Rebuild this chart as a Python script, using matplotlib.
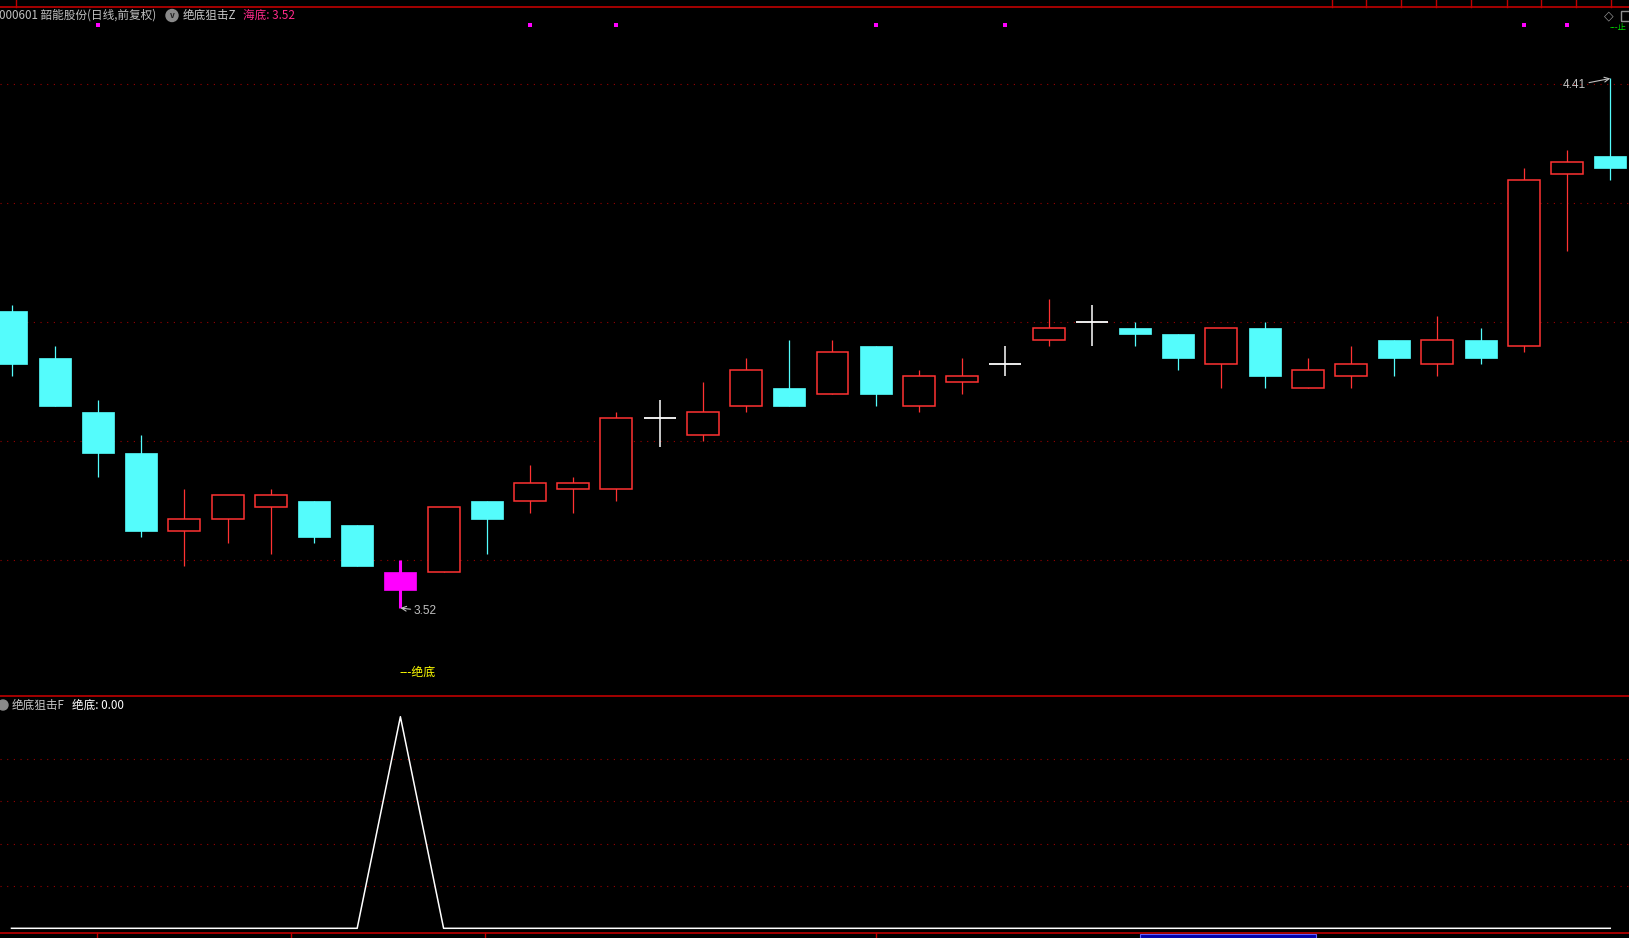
"""
韶能股份 日线K线 + 绝底狙击 指标 (复刻通达信界面)
"""

import matplotlib
matplotlib.use('Agg')
import matplotlib.pyplot as plt
from matplotlib.patches import Rectangle, Ellipse
from matplotlib.lines import Line2D
import matplotlib.transforms as mtransforms

plt.rcParams['font.family'] = ['Noto Sans CJK SC', 'DejaVu Sans']

W, H = 1629, 938
DPI = 100

# ============================================================
# 数据
# ============================================================

opens = [4.02, 3.94, 3.85, 3.78, 3.65, 3.67, 3.69, 3.70, 3.66, 3.58,
         3.58, 3.70, 3.70, 3.72, 3.72, 3.84, 3.81, 3.86, 3.89, 3.88,
         3.96, 3.86, 3.90, 3.93, 3.97, 4.00, 3.99, 3.98, 3.93, 3.99,
         3.89, 3.91, 3.97, 3.93, 3.97, 3.96, 4.25, 4.28]
highs = [4.03, 3.96, 3.87, 3.81, 3.72, 3.71, 3.72, 3.70, 3.66, 3.60,
         3.69, 3.70, 3.76, 3.74, 3.85, 3.87, 3.90, 3.94, 3.97, 3.97,
         3.96, 3.92, 3.94, 3.96, 4.04, 4.03, 4.00, 3.98, 3.99, 4.00,
         3.94, 3.96, 3.97, 4.01, 3.99, 4.26, 4.29, 4.41]
lows = [3.91, 3.86, 3.74, 3.64, 3.59, 3.63, 3.61, 3.63, 3.59, 3.52,
        3.58, 3.61, 3.68, 3.68, 3.70, 3.79, 3.80, 3.85, 3.86, 3.88,
        3.86, 3.85, 3.88, 3.91, 3.96, 3.96, 3.96, 3.92, 3.89, 3.89,
        3.89, 3.89, 3.91, 3.91, 3.93, 3.95, 4.12, 4.24]
closes = [3.93, 3.86, 3.78, 3.65, 3.67, 3.71, 3.71, 3.64, 3.59, 3.55,
          3.69, 3.67, 3.73, 3.73, 3.84, 3.84, 3.85, 3.92, 3.86, 3.95,
          3.88, 3.91, 3.91, 3.93, 3.99, 4.00, 3.98, 3.94, 3.99, 3.91,
          3.92, 3.93, 3.94, 3.97, 3.94, 4.24, 4.27, 4.26]

# 绝底狙击F 指标值
jd_values = [0, 0, 0, 0, 0, 0, 0, 0, 0, 1,
             0, 0, 0, 0, 0, 0, 0, 0, 0, 0,
             0, 0, 0, 0, 0, 0, 0, 0, 0, 0,
             0, 0, 0, 0, 0, 0, 0, 0]

# 顶部品红小点所在K线
dot_idx = [2, 12, 14, 20, 23, 35, 36]

price_grid = [3.60, 3.80, 4.00, 4.20, 4.40]
sub_grid = [0.2, 0.4, 0.6, 0.8]

low_label = '3.52'
high_label = '4.41'

C_UP = '#FF3232'
C_DOWN = '#54FCFC'
C_SIG = '#FF00FF'
C_GRID = '#9A0000'
C_LINE = '#C00000'
C_TXT = '#C0C0C0'

n = len(opens)
xs = list(range(n))


def fx(px):
    return px / W


def fy(py):
    return 1 - py / H


# ============================================================
# 画布
# ============================================================

fig = plt.figure(figsize=(W / DPI, H / DPI), dpi=DPI, facecolor='black')

# 主图: y 像素 8 ~ 695
ax = fig.add_axes([0, fy(695), 1, (695 - 8) / H])
ax.set_facecolor('black')
x_left = -11.5 / 43.21
x_right = (W - 11.5) / 43.21
ax.set_xlim(x_left, x_right)
ax.set_ylim(3.52 - 87 / 595, 3.52 + 600 / 595)
ax.axis('off')

for g in price_grid:
    ax.axhline(g, color=C_GRID, lw=0.8, linestyle=(0, (1, 5)), zorder=1)

bw = 0.74
for i in xs:
    o, h, l, c = opens[i], highs[i], lows[i], closes[i]
    if jd_values[i] > 0:
        ax.vlines(i, l, h, color=C_SIG, lw=2.2, zorder=2)
        ax.add_patch(Rectangle((i - bw / 2, min(o, c)), bw, abs(c - o),
                               facecolor=C_SIG, edgecolor=C_SIG, lw=0.5, zorder=3))
    elif c > o:
        ax.vlines(i, l, h, color=C_UP, lw=0.9, zorder=2)
        ax.add_patch(Rectangle((i - bw / 2, o), bw, c - o,
                               facecolor='black', edgecolor=C_UP, lw=1.1, zorder=3))
    elif c < o:
        ax.vlines(i, l, h, color=C_DOWN, lw=0.9, zorder=2)
        ax.add_patch(Rectangle((i - bw / 2, c), bw, o - c,
                               facecolor=C_DOWN, edgecolor=C_DOWN, lw=0.5, zorder=3))
    else:
        ax.vlines(i, l, h, color='white', lw=1.1, zorder=2)
        ax.hlines(o, i - bw / 2, i + bw / 2, color='white', lw=1.3, zorder=3)

# 顶部品红点
trans = mtransforms.blended_transform_factory(ax.transData, ax.transAxes)
ax.scatter(dot_idx, [(695 - 25) / (695 - 8)] * len(dot_idx), transform=trans,
           marker='s', s=5, color=C_SIG, lw=0, zorder=4, clip_on=False)

# 最低/最高标注
i_low = lows.index(min(lows))
i_high = highs.index(max(highs))
ax.annotate(low_label, xy=(i_low, lows[i_low]), xytext=(13, -3), textcoords='offset pixels',
            ha='left', va='center', color=C_TXT, fontsize=8.6, family=['Liberation Sans'],
            arrowprops=dict(arrowstyle='->', color=C_TXT, lw=0.8, shrinkA=0, shrinkB=0))
ax.annotate(high_label, xy=(i_high, highs[i_high]), xytext=(-24, -7), textcoords='offset pixels',
            ha='right', va='center', color=C_TXT, fontsize=8.6, family=['Liberation Sans'],
            arrowprops=dict(arrowstyle='->', color=C_TXT, lw=0.8, shrinkA=0, shrinkB=0))

# 绝底 标记文字
ax.text(i_low - 0.02, 3.52 - 64 / 595, '---绝底', ha='left', va='center',
        color='#FFFF00', fontsize=8.6)

# ============================================================
# 副图: 绝底狙击F
# ============================================================

ax2 = fig.add_axes([0, fy(933), 1, (933 - 696) / H])
ax2.set_facecolor('black')
ax2.set_xlim(x_left, x_right)
ax2.set_ylim((928.3 - 933) / 211.6, (928.3 - 696) / 211.6)
ax2.axis('off')
for g in sub_grid:
    ax2.axhline(g, color=C_GRID, lw=0.8, linestyle=(0, (1, 5)), zorder=1)
ax2.plot(xs, jd_values, color='white', lw=1.1, zorder=3)

# ============================================================
# 分隔线 / 表头
# ============================================================

for yy in [7, 696, 933]:
    fig.add_artist(Line2D([0, 1], [fy(yy), fy(yy)], color=C_LINE, lw=1.2))

for xx in [16, 1332, 1366, 1401, 1436, 1471, 1507, 1541, 1576, 1611]:
    fig.add_artist(Line2D([fx(xx), fx(xx)], [fy(0), fy(7)], color=C_LINE, lw=1.0))

for xx in [97, 291, 485, 876]:
    fig.add_artist(Line2D([fx(xx), fx(xx)], [fy(933), fy(938)], color=C_LINE, lw=1.0))
fig.add_artist(Rectangle((fx(1140), 0), fx(1316) - fx(1140), fy(934),
                         facecolor='#0000A8', edgecolor='#6060FF', lw=0.8))

fig.text(fx(-1), fy(15.5), '000601 韶能股份(日线,前复权)', color=C_TXT,
         fontsize=8.4, ha='left', va='center')
fig.add_artist(Ellipse((fx(172), fy(15.5)), 12 / W, 12 / H, color='#8A8A8A'))
fig.text(fx(172), fy(15.5), 'v', color='#202020', fontsize=6, ha='center', va='center',
         fontweight='bold')
fig.text(fx(183), fy(15.5), '绝底狙击Z', color='#C8C8C8', fontsize=8.4, ha='left', va='center')
fig.text(fx(243), fy(15.5), '海底: 3.52', color='#FF2A8A', fontsize=8.4, ha='left', va='center')

fig.add_artist(Ellipse((fx(3), fy(705)), 10 / W, 10 / H, color='#8A8A8A'))
fig.text(fx(12), fy(705), '绝底狙击F', color='#C8C8C8', fontsize=8.4, ha='left', va='center')
fig.text(fx(72), fy(705), '绝底: 0.00', color='white', fontsize=8.4, ha='left', va='center')

# 右上角图标
fig.text(fx(1609), fy(16), '◇', color='#909090', fontsize=9, ha='center', va='center',
         family=['DejaVu Sans'])
fig.add_artist(Rectangle((fx(1621), fy(21)), 10 / W, 10 / H, facecolor='none',
                         edgecolor='#909090', lw=1.0))
fig.text(fx(1610), fy(28), '---止', color='#00DD00', fontsize=6, ha='left', va='center')

fig.savefig('out.png', dpi=DPI, facecolor='black')
